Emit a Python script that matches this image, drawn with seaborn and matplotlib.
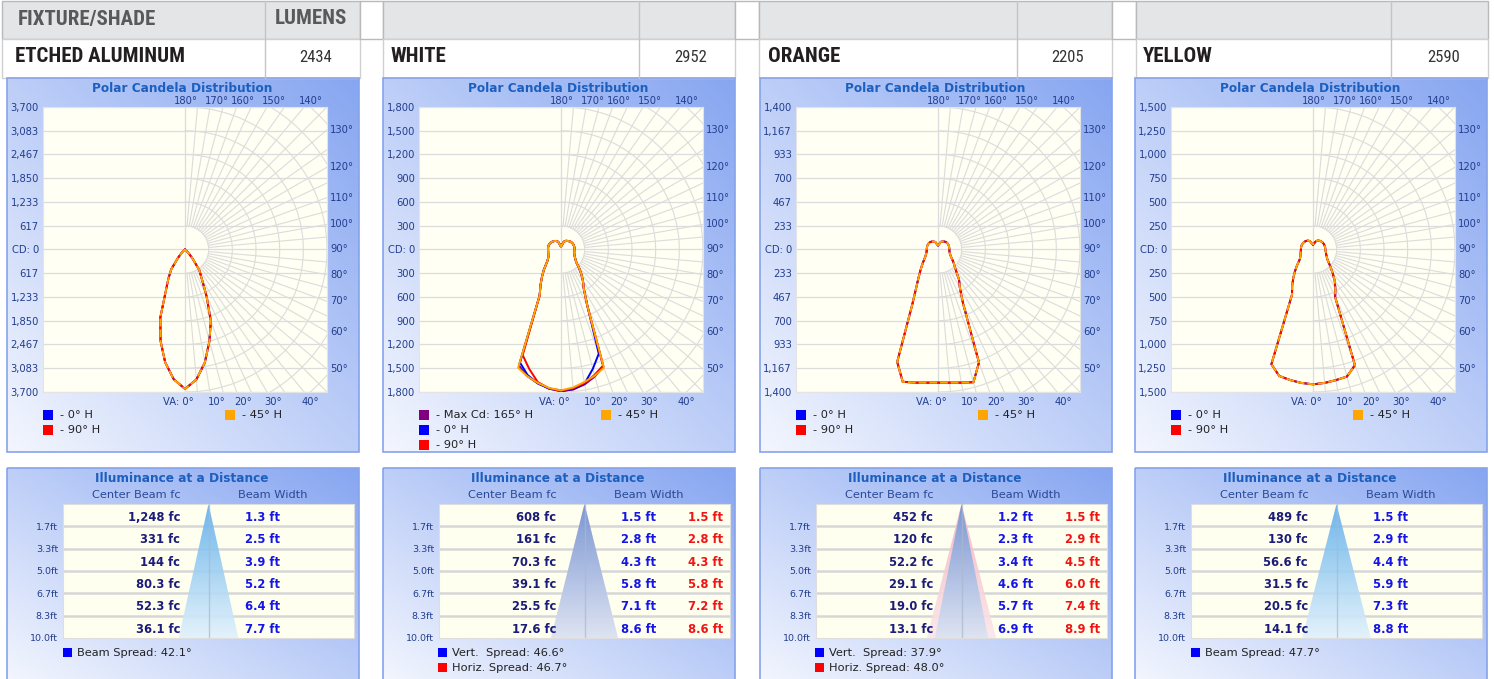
import numpy as np
import matplotlib
matplotlib.use("Agg")
import matplotlib.pyplot as plt
import matplotlib.transforms as mtransforms
import seaborn as sns
from matplotlib.patches import Rectangle, Polygon
from matplotlib.colors import to_rgb

sns.set_theme(style="white")
plt.rcParams["font.family"] = ["DejaVu Sans"]

# ---------------- data ----------------
shade_names = ["ETCHED ALUMINUM", "WHITE", "ORANGE", "YELLOW"]
shade_lumens = [2434, 2952, 2205, 2590]
candela_max = [3700, 1800, 1400, 1500]

vert_angles = [0, 5, 10, 15, 20, 25, 30, 35, 40, 45, 50, 55, 60, 65, 70, 75, 80, 85, 90,
               100, 110, 120, 130, 140, 150, 160, 170, 180]

etched_right = [3620, 3390, 2980, 2460, 1970, 1320, 870, 650, 300, 130, 50, 15, 0, 0, 0, 0, 0, 0, 0,
                0, 0, 0, 0, 0, 0, 0, 0, 0]
etched_left = [3620, 3380, 2975, 2460, 1880, 1180, 860, 620, 290, 130, 50, 15, 0, 0, 0, 0, 0, 0, 0,
               0, 0, 0, 0, 0, 0, 0, 0, 0]

white_low_angles = [0, 5, 10, 15, 20]
white_up_angles = [25, 30, 35, 40, 45, 50, 55, 60, 65, 70, 75, 80, 85, 90,
                   100, 110, 120, 130, 140, 150, 160, 170, 180]
white_up_right = [796, 580, 485, 400, 320, 255, 225, 205, 190, 180, 173, 170, 169, 169,
                  172, 170, 165, 155, 140, 127, 105, 55, 35]
white_up_left = [640, 520, 420, 340, 270, 225, 200, 185, 178, 172, 168, 165, 164, 164,
                 166, 165, 160, 150, 138, 125, 103, 55, 35]
white_maxcd_low_right = [1790, 1775, 1730, 1660, 1570]
white_maxcd_low_left = [1780, 1760, 1715, 1655, 1560]
white_0h_low_right = [1790, 1770, 1720, 1560, 1400]
white_0h_low_left = [1790, 1765, 1715, 1640, 1520]
white_90h_low_right = [1785, 1760, 1715, 1640, 1560]
white_90h_low_left = [1790, 1760, 1700, 1560, 1420]
white_45h_low_right = [1779, 1750, 1700, 1650, 1590]
white_45h_low_left = [1779, 1755, 1710, 1655, 1590]

orange_right = [1308, 1313, 1328, 1350, 1181, 584, 430, 362, 280, 232, 200, 172, 150, 136, 126, 119, 115, 113, 112,
                112, 113, 112, 109, 102, 91, 80, 50, 40]
orange_left = [1308, 1313, 1328, 1345, 1176, 604, 427, 333, 270, 225, 190, 165, 145, 134, 125, 118, 114, 112, 111,
               111, 112, 111, 108, 101, 90, 79, 50, 40]

yellow_right = [1419, 1410, 1396, 1385, 1295, 555, 472, 400, 322, 264, 218, 187, 170, 158, 148, 142, 137, 133, 131,
                130, 129, 127, 124, 118, 109, 95, 63, 49]
yellow_left = [1419, 1410, 1395, 1378, 1285, 524, 440, 362, 295, 240, 195, 168, 155, 147, 140, 135, 132, 129, 128,
               128, 128, 126, 123, 117, 108, 94, 62, 49]

distances_ft = [1.7, 3.3, 5.0, 6.7, 8.3, 10.0]
etched_fc = [1248, 331, 144, 80.3, 52.3, 36.1]
etched_width = [1.3, 2.5, 3.9, 5.2, 6.4, 7.7]
white_fc = [608, 161, 70.3, 39.1, 25.5, 17.6]
white_vwidth = [1.5, 2.8, 4.3, 5.8, 7.1, 8.6]
white_hwidth = [1.5, 2.8, 4.3, 5.8, 7.2, 8.6]
orange_fc = [452, 120, 52.2, 29.1, 19.0, 13.1]
orange_vwidth = [1.2, 2.3, 3.4, 4.6, 5.7, 6.9]
orange_hwidth = [1.5, 2.9, 4.5, 6.0, 7.4, 8.9]
yellow_fc = [489, 130, 56.6, 31.5, 20.5, 14.1]
yellow_width = [1.5, 2.9, 4.4, 5.9, 7.3, 8.8]
vert_spread = [42.1, 46.6, 37.9, 47.7]
horiz_spread = [None, 46.7, 48.0, None]

# ---------------- layout / style ----------------
W, H = 1494, 679
panel_x = [7, 383, 760, 1135]
head_L = [2, 383, 759, 1136]
head_D = [265, 639, 1017, 1391]
head_R = [360, 735, 1112, 1488]

NAVY = "#213d8f"
TITLE = "#1c5fbf"
GRID = "#dcdcdc"
BLUE, RED, ORANGE, PURPLE = "#0000ff", "#ff0000", "#ffa500", "#800080"

fig = plt.figure(figsize=(W / 100, H / 100), dpi=100)
ax0 = fig.add_axes([0, 0, 1, 1])
ax0.axis("off")


def fb(x, y, w, h):
    return [x / W, 1 - (y + h) / H, w / W, h / H]


C0 = np.array(to_rgb("#f3f6fe"))
C1 = np.array(to_rgb("#87a6f1"))


def grad_box(x, y, w, h):
    u = np.linspace(0, 1, 80)[None, :]
    v = np.linspace(0, 1, 80)[:, None]
    t = np.clip((u + (1 - v)) / 2, 0, 1)[..., None]
    img = C0 + (C1 - C0) * t
    ax0.imshow(img, extent=(x, x + w, y + h, y), aspect="auto", zorder=0,
               interpolation="bilinear")
    ax0.add_patch(Rectangle((x, y), w, h, fill=False, ec="#86a3ea", lw=1.2, zorder=1))


# ---------------- header table ----------------
head_font = ["Roboto Condensed", "Roboto", "DejaVu Sans"]
for k in range(4):
    L, D, R = head_L[k], head_D[k], head_R[k]
    ax0.add_patch(Rectangle((L, 0.5), R - L, 38, fc="#e4e5e7", ec="#b9b9b9", lw=1, zorder=1))
    ax0.add_patch(Rectangle((L, 38.5), R - L, 39, fc="white", ec="#d0d0d0", lw=1, zorder=1))
    ax0.plot([D, D], [0.5, 77.5], color="#c4c4c4", lw=1, zorder=2)
    if k < 3:
        ax0.add_patch(Rectangle((R, 0.5), head_L[k + 1] - R, 38, fc="white", ec="#b9b9b9",
                                lw=1, zorder=1))
    ax0.text(panel_x[k] + 8, 57, shade_names[k], ha="left", va="center", fontsize=15,
             fontweight="bold", family=head_font, color="#231f20", zorder=3)
    ax0.text(R - 28, 57, str(shade_lumens[k]), ha="right", va="center", fontsize=12,
             family=head_font, color="#333333", zorder=3)
ax0.text(18, 19, "FIXTURE/SHADE", ha="left", va="center", fontsize=15, fontweight="bold",
         family=head_font, color="#58595b", zorder=3)
ax0.text(347, 19, "LUMENS", ha="right", va="center", fontsize=15, fontweight="bold",
         family=head_font, color="#58595b", zorder=3)


# ---------------- polar panels ----------------
def polar_panel(k, angles, series, legend_left, legend_right):
    M = candela_max[k]
    P = panel_x[k]
    grad_box(P, 78, 352, 374)
    ax0.text(P + 175, 88, "Polar Candela Distribution", ha="center", va="center",
             fontsize=8.7, fontweight="bold", color=TITLE, zorder=3)
    ax = fig.add_axes(fb(P + 36, 107, 284, 285))
    ax.set_facecolor("#fffff3")
    ticks = np.linspace(-M, M, 13)
    ax.set_yticks(ticks)
    ax.set_yticklabels(["CD: 0" if abs(t) < 1e-6 else f"{abs(t):,.0f}" for t in ticks])
    ax.set_xticks([])
    ax.tick_params(axis="y", length=0, pad=3, labelsize=7.2, labelcolor=NAVY)
    ax.yaxis.grid(True, color=GRID, lw=0.9)
    ax.set_axisbelow(True)
    for s in ax.spines.values():
        s.set_color("#e4e4e4")
        s.set_linewidth(0.8)
    th = np.deg2rad(np.linspace(0, 180, 181))
    for j in range(1, 9):
        r = M * j / 6
        ax.plot(r * np.sin(th), -r * np.cos(th), color=GRID, lw=0.8, zorder=1)
    for a in range(5, 180, 5):
        if a == 90:
            continue
        t = np.deg2rad(a)
        ax.plot([M / 6 * np.sin(t), 2 * M * np.sin(t)], [-M / 6 * np.cos(t), -2 * M * np.cos(t)],
                color=GRID, lw=0.8, zorder=1)
    ax.axvline(0, color=GRID, lw=0.9, zorder=1)

    a = np.deg2rad(np.asarray(angles, dtype=float))
    for color, rv, lv, dashed in series:
        rv = np.asarray(rv, dtype=float)
        lv = np.asarray(lv, dtype=float)
        xs = np.concatenate([-(lv * np.sin(a))[::-1], rv * np.sin(a)])
        ys = np.concatenate([-(lv * np.cos(a))[::-1], -(rv * np.cos(a))])
        sns.lineplot(x=xs, y=ys, sort=False, estimator=None, color=color, lw=1.4, ax=ax,
                     legend=False, zorder=3)
        if dashed:
            ax.lines[-1].set_dashes([4, 1.5])
    ax.set_xlim(-M, M)
    ax.set_ylim(-M, M)
    ax.set_xlabel("")
    ax.set_ylabel("")

    px = M / 142.0
    trx = mtransforms.blended_transform_factory(ax.transData, ax.transAxes)
    kw = dict(fontsize=7.2, color=NAVY, clip_on=False, va="center")
    for ang in [180, 170, 160, 150, 140]:
        x = M * np.tan(np.deg2rad(180 - ang)) + (1 if ang == 180 else 6.5) * px
        ax.text(x, 1 + 6 / 285, f"{ang}°", transform=trx, ha="center", **kw)
    for ang in [0, 10, 20, 30, 40]:
        if ang == 0:
            ax.text(9 * px, -10 / 285, "VA: 0°", transform=trx, ha="right", **kw)
        else:
            x = M * np.tan(np.deg2rad(ang)) + 6.5 * px
            ax.text(x, -10 / 285, f"{ang}°", transform=trx, ha="center", **kw)
    try_ = mtransforms.blended_transform_factory(ax.transAxes, ax.transData)
    for ang in range(50, 140, 10):
        t = np.deg2rad(ang)
        y = -M * np.cos(t) / np.sin(t)
        ax.text(1 + 3 / 284, y, f"{ang}°", transform=try_, ha="left", **kw)

    for i, (c, lab) in enumerate(legend_left):
        y = 415 + 15 * i
        ax0.add_patch(Rectangle((P + 36, y - 5), 10, 10, fc=c, ec="none", zorder=3))
        ax0.text(P + 53, y, lab, va="center", ha="left", fontsize=8.2, color="#222222", zorder=3)
    c, lab = legend_right
    ax0.add_patch(Rectangle((P + 218, 410), 10, 10, fc=c, ec="none", zorder=3))
    ax0.text(P + 235, 415, lab, va="center", ha="left", fontsize=8.2, color="#222222", zorder=3)


std_legend_left = [(BLUE, "- 0° H"), (RED, "- 90° H")]
std_legend_right = (ORANGE, "- 45° H")

polar_panel(0, vert_angles,
            [(BLUE, etched_right, etched_left, False),
             (RED, etched_right, etched_left, False),
             (ORANGE, etched_right, etched_left, True)],
            std_legend_left, std_legend_right)

white_angles = white_low_angles + white_up_angles
polar_panel(1, white_angles,
            [(PURPLE, white_maxcd_low_right + white_up_right, white_maxcd_low_left + white_up_left, False),
             (BLUE, white_0h_low_right + white_up_right, white_0h_low_left + white_up_left, False),
             (RED, white_90h_low_right + white_up_right, white_90h_low_left + white_up_left, False),
             (ORANGE, white_45h_low_right + white_up_right, white_45h_low_left + white_up_left, False)],
            [(PURPLE, "- Max Cd: 165° H"), (BLUE, "- 0° H"), (RED, "- 90° H")], std_legend_right)

polar_panel(2, vert_angles,
            [(BLUE, orange_right, orange_left, False),
             (RED, orange_right, orange_left, False),
             (ORANGE, orange_right, orange_left, True)],
            std_legend_left, std_legend_right)

polar_panel(3, vert_angles,
            [(BLUE, yellow_right, yellow_left, False),
             (RED, yellow_right, yellow_left, False),
             (ORANGE, yellow_right, yellow_left, True)],
            std_legend_left, std_legend_right)


# ---------------- illuminance panels ----------------
def fmt_fc(v):
    return f"{v:,.0f} fc" if v >= 100 else f"{v:.1f} fc"


def illum_panel(k, fc, vwidth, hwidth):
    P = panel_x[k]
    vs, hs = vert_spread[k], horiz_spread[k]
    grad_box(P, 468, 352, 215)
    ax0.text(P + 175, 478, "Illuminance at a Distance", ha="center", va="center",
             fontsize=8.7, fontweight="bold", color=TITLE, zorder=3)
    ax0.text(P + 129, 495, "Center Beam fc", ha="center", va="center", fontsize=8.2,
             color="#2a4896", zorder=3)
    ax0.text(P + 266, 495, "Beam Width", ha="center", va="center", fontsize=8.2,
             color="#2a4896", zorder=3)
    tab = fig.add_axes(fb(P + 56, 504, 291, 134))
    tab.set_facecolor("#fffff0")
    tab.set_xticks([])
    tab.set_yticks([])
    for s in tab.spines.values():
        s.set_color("#dedede")
        s.set_linewidth(0.8)
    for i in range(1, 6):
        tab.axhline(i, color="#d6d6d6", lw=1.8, zorder=1)
    cx = 145.5

    def tri(spread, top, bot, alpha, z):
        hw = 0.58 * 134 * np.tan(np.deg2rad(spread / 2))
        poly = Polygon([[cx, 0], [cx - hw, 6], [cx + hw, 6]], closed=True, fc="none", ec="none")
        tab.add_patch(poly)
        g = np.linspace(0, 1, 64)[:, None, None]
        top_c, bot_c = np.array(to_rgb(top)), np.array(to_rgb(bot))
        img = top_c + (bot_c - top_c) * g
        im = tab.imshow(img, extent=(cx - hw, cx + hw, 6, 0), aspect="auto", zorder=z,
                        alpha=alpha, interpolation="bilinear")
        im.set_clip_path(poly)

    if hs is None:
        tri(vs, "#5eaeeb", "#e0f1fc", 0.9, 2)
    else:
        tri(hs, "#f2b3bf", "#fbe6ea", 0.9, 2)
        tri(vs, "#5e8fd8", "#d6e2f4", 0.8, 3)
    tab.axvline(cx, color="#a9b9cc", lw=1, zorder=4, alpha=0.7)

    for i in range(6):
        tab.text(117, i + 0.6, fmt_fc(fc[i]), ha="right", va="center", fontsize=8.3,
                 fontweight="bold", color="#1b1b7a", zorder=5)
        tab.text(217, i + 0.6, f"{vwidth[i]:.1f} ft", ha="right", va="center", fontsize=8.3,
                 fontweight="bold", color="#1515e8", zorder=5)
        if hwidth is not None:
            tab.text(284, i + 0.6, f"{hwidth[i]:.1f} ft", ha="right", va="center", fontsize=8.3,
                     fontweight="bold", color="#f01515", zorder=5)
        ax0.text(P + 51, 504 + 22.33 * (i + 1) + 1, f"{distances_ft[i]:.1f}ft", ha="right",
                 va="center", fontsize=6.8, color=NAVY, zorder=3)
    tab.set_xlim(0, 291)
    tab.set_ylim(6, 0)

    if hs is None:
        ax0.add_patch(Rectangle((P + 56, 648), 9, 9, fc=BLUE, ec="none", zorder=3))
        ax0.text(P + 70, 653, f"Beam Spread: {vs:.1f}°", ha="left", va="center", fontsize=8.2,
                 color="#222222", zorder=3)
    else:
        ax0.add_patch(Rectangle((P + 55, 648), 9, 9, fc=BLUE, ec="none", zorder=3))
        ax0.text(P + 69, 653, f"Vert.  Spread: {vs:.1f}°", ha="left", va="center", fontsize=8.2,
                 color="#222222", zorder=3)
        ax0.add_patch(Rectangle((P + 55, 663), 9, 9, fc=RED, ec="none", zorder=3))
        ax0.text(P + 69, 668, f"Horiz. Spread: {hs:.1f}°", ha="left", va="center", fontsize=8.2,
                 color="#222222", zorder=3)


illum_panel(0, etched_fc, etched_width, None)
illum_panel(1, white_fc, white_vwidth, white_hwidth)
illum_panel(2, orange_fc, orange_vwidth, orange_hwidth)
illum_panel(3, yellow_fc, yellow_width, None)

ax0.set_xlim(0, W)
ax0.set_ylim(H, 0)

fig.savefig("out.png", dpi=100, facecolor="white")
